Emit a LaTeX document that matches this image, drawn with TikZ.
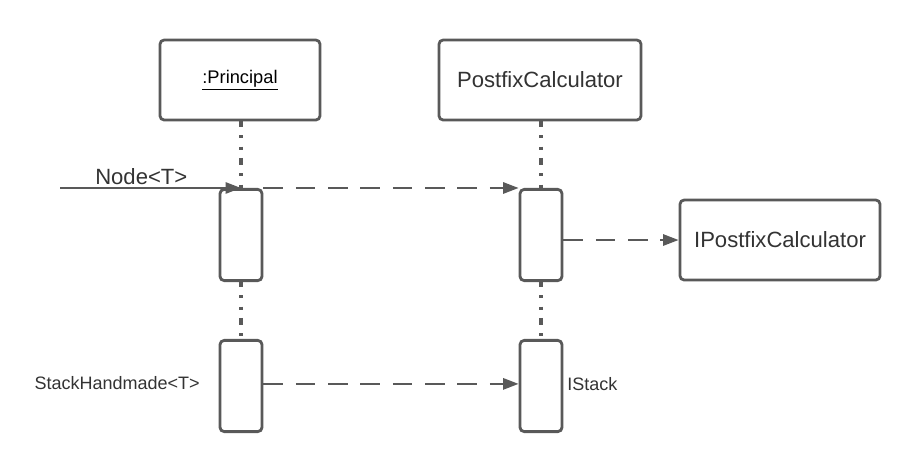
\documentclass[tikz,border=0pt]{standalone}
\usepackage{fontspec}
\setmainfont{Liberation Sans}
\usetikzlibrary{arrows.meta}
\usepackage{xcolor}
\definecolor{linegray}{HTML}{595959}
\definecolor{textgray}{HTML}{333333}

\begin{document}
\begin{tikzpicture}[x=0.025cm, y=-0.025cm,
    object/.style={draw=linegray, line width=2pt, rounded corners=3pt, fill=white,
        minimum height=2cm, text=textgray, font=\fontsize{15.7}{18}\selectfont},
    activation/.style={draw=linegray, line width=2pt, rounded corners=3pt, fill=white,
        minimum width=1.05cm, minimum height=2.28cm},
    lifeline/.style={draw=linegray, line width=2.2pt, dash pattern=on 5pt off 6pt on 2pt off 6pt on 2pt off 6pt},
    message/.style={draw=linegray, line width=1.5pt, dash pattern=on 14pt off 9pt,
        -{Triangle[length=11pt,width=8pt]}},
    smalltext/.style={text=textgray, inner sep=0pt, font=\fontsize{12.8}{15}\selectfont}]
    \useasboundingbox (0,0) rectangle (920,470);

    % lifelines first, boxes on top
    \draw[lifeline] (241,120) -- (241,190);
    \draw[lifeline] (541,120) -- (541,190);
    \draw[lifeline] (241,280) -- (241,340);
    \draw[lifeline] (541,280) -- (541,340);

    % objects
    \node[object, minimum width=4cm, text=black, font=\fontsize{13}{15}\selectfont] (prin) at (240,80) {\underline{:Principal}};
    \node[object, minimum width=5.05cm] (calc) at (540,80) {PostfixCalculator};
    \node[object, minimum width=5cm] (ipost) at (780,240) {IPostfixCalculator};

    % activations
    \node[activation] (act1) at (241,235) {};
    \node[activation] (act2) at (541,235) {};
    \node[activation] (act3) at (241,386) {};
    \node[activation] (act4) at (541,386) {};

    % messages
    \coordinate (entry) at (60,0);
    \draw[draw=linegray, line width=1.5pt, -{Triangle[length=11pt,width=8pt]}] (entry |- act1.north) -- (act1.north);
    \node[text=textgray, inner sep=0pt, anchor=base west, font=\fontsize{15.7}{18}\selectfont] (nodeT) at (95,184) {Node<T>};
    \draw[message] (act1.north east) -- (act2.north west);
    \draw[message] (ipost.west -| act2.east) -- (ipost.west);
    \draw[message] ([yshift=1.5pt]act3.east) -- ([yshift=1.5pt]act4.west);

    \node[smalltext, anchor=base east] (stackT) at (200,389) {StackHandmade<T>};
    \node[smalltext, anchor=base west] (istack) at (567,390) {IStack};
\end{tikzpicture}
\end{document}
